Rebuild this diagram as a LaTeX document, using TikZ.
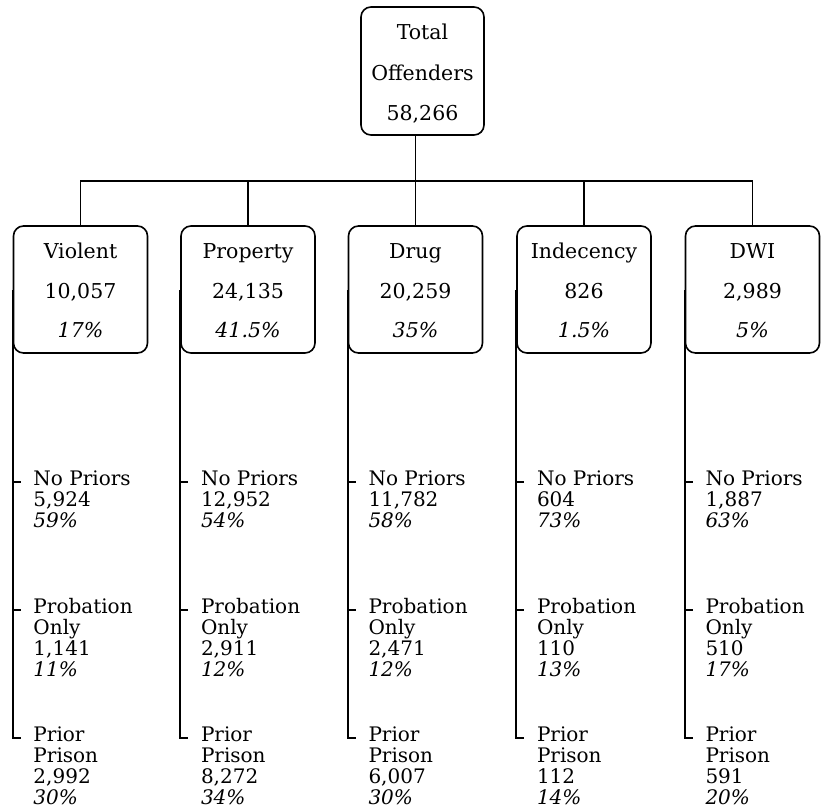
\documentclass[tikz,border=0pt]{standalone}
\usepackage{fontspec}
\setmainfont{DejaVu Serif}
\newcommand{\substack}[1]{\begin{tabular}[t]{@{}l@{}}#1\end{tabular}}
\begin{document}
\begin{tikzpicture}[x=1pt,y=-1pt,line width=1.6pt,
  box/.style={draw,rounded corners=10pt,minimum width=134pt,minimum height=127pt,inner sep=0pt},
  big/.style={font=\fontsize{20.5}{21}\selectfont,anchor=base,inner sep=0pt},
  sub/.style={font=\fontsize{20}{21}\selectfont,anchor=base west,inner sep=0pt}]
\useasboundingbox (0,0) rectangle (823,812);
% total
\node[box,minimum width=123pt,minimum height=128pt] (total) at (422.5,71) {};
\node[big] (tt1) at (422.5,39) {Total};
\node[big] (tt2) at (422.5,80) {Offenders};
\node[big] (tt3) at (422.5,120) {58,266};
% categories
\node[box] (violent) at (80.5,289.5) {};
\node[box] (property) at (248,289.5) {};
\node[box] (drug) at (415.5,289.5) {};
\node[box] (indecency) at (584,289.5) {};
\node[box] (dwi) at (752.5,289.5) {};
\node[big] (va) at (80.5,258) {Violent};
\node[big] (vb) at (80.5,298) {10,057};
\node[big] (vc) at (80.5,337) {\textit{17\%}};
\node[big] (pa) at (248,258) {Property};
\node[big] (pb) at (248,298) {24,135};
\node[big] (pc) at (248,337) {\textit{41.5\%}};
\node[big] (da) at (415.5,258) {Drug};
\node[big] (db) at (415.5,298) {20,259};
\node[big] (dc) at (415.5,337) {\textit{35\%}};
\node[big] (ia) at (584,258) {Indecency};
\node[big] (ib) at (584,298) {826};
\node[big] (ic) at (584,337) {\textit{1.5\%}};
\node[big] (wa) at (752.5,258) {DWI};
\node[big] (wb) at (752.5,298) {2,989};
\node[big] (wc) at (752.5,337) {\textit{5\%}};
% connectors
\coordinate (bus) at (0,181);
\coordinate (r1) at (0,482);
\coordinate (r2) at (0,610);
\coordinate (r3) at (0,738);
\draw (total.south -| drug.north) -- (drug.north);
\draw (violent.north) -- (violent.north |- bus) -- (dwi.north |- bus) -- (dwi.north);
\draw (property.north |- bus) -- (property.north);
\draw (indecency.north |- bus) -- (indecency.north);
\foreach \n in {violent,property,drug,indecency,dwi}{
  \draw (\n.west) -- (\n.west |- r3) -- ++(8,0);
  \draw (\n.west |- r1) -- ++(8,0);
  \draw (\n.west |- r2) -- ++(8,0);
}
% sub texts
\path (violent.west |- r1) ++(20,3) node[sub] (v1) {\substack{No Priors\\5,924\\\textit{59\%}}};
\path (violent.west |- r2) ++(20,3) node[sub] (v2) {\substack{Probation\\Only\\1,141\\\textit{11\%}}};
\path (violent.west |- r3) ++(20,3) node[sub] (v3) {\substack{Prior\\Prison\\2,992\\\textit{30\%}}};
\path (property.west |- r1) ++(20,3) node[sub] (p1) {\substack{No Priors\\12,952\\\textit{54\%}}};
\path (property.west |- r2) ++(20,3) node[sub] (p2) {\substack{Probation\\Only\\2,911\\\textit{12\%}}};
\path (property.west |- r3) ++(20,3) node[sub] (p3) {\substack{Prior\\Prison\\8,272\\\textit{34\%}}};
\path (drug.west |- r1) ++(20,3) node[sub] (d1) {\substack{No Priors\\11,782\\\textit{58\%}}};
\path (drug.west |- r2) ++(20,3) node[sub] (d2) {\substack{Probation\\Only\\2,471\\\textit{12\%}}};
\path (drug.west |- r3) ++(20,3) node[sub] (d3) {\substack{Prior\\Prison\\6,007\\\textit{30\%}}};
\path (indecency.west |- r1) ++(20,3) node[sub] (i1) {\substack{No Priors\\604\\\textit{73\%}}};
\path (indecency.west |- r2) ++(20,3) node[sub] (i2) {\substack{Probation\\Only\\110\\\textit{13\%}}};
\path (indecency.west |- r3) ++(20,3) node[sub] (i3) {\substack{Prior\\Prison\\112\\\textit{14\%}}};
\path (dwi.west |- r1) ++(20,3) node[sub] (w1) {\substack{No Priors\\1,887\\\textit{63\%}}};
\path (dwi.west |- r2) ++(20,3) node[sub] (w2) {\substack{Probation\\Only\\510\\\textit{17\%}}};
\path (dwi.west |- r3) ++(20,3) node[sub] (w3) {\substack{Prior\\Prison\\591\\\textit{20\%}}};
\end{tikzpicture}
\end{document}
